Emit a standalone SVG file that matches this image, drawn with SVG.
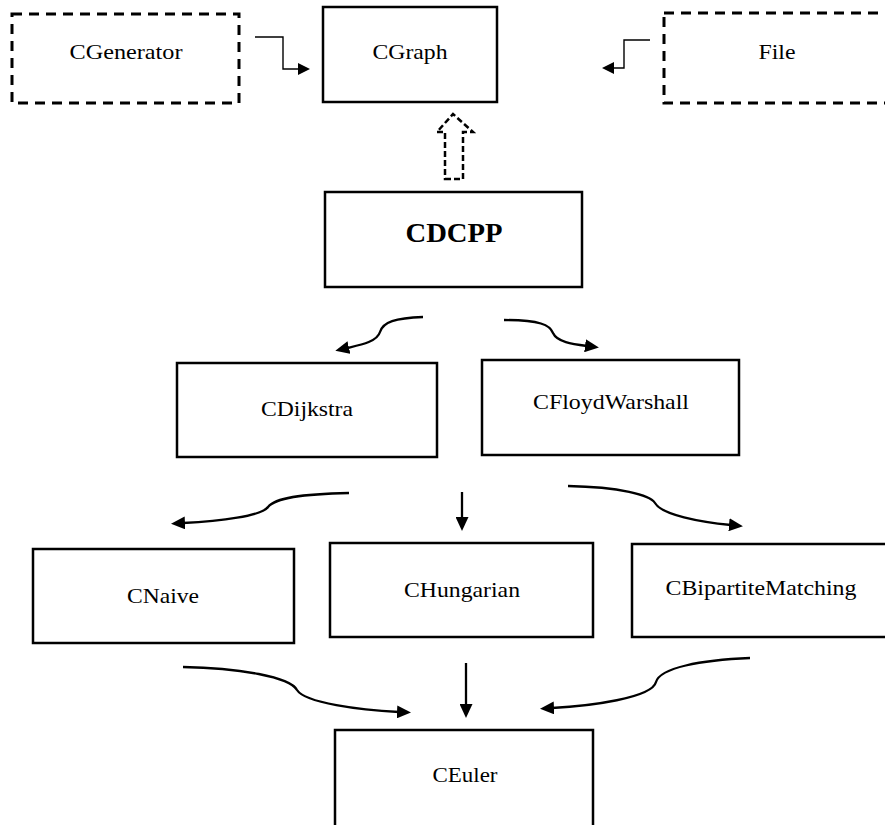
<svg xmlns="http://www.w3.org/2000/svg" width="885" height="825" viewBox="0 0 885 825">
<style>
.box{fill:#fff;stroke:#000;stroke-width:2.5}
.dash{fill:#fff;stroke:#000;stroke-width:3;stroke-dasharray:10 7}
.t{font-family:"Liberation Serif","Times New Roman",serif;font-size:22px;fill:#000;text-anchor:middle}
.b{font-family:"Liberation Serif","Times New Roman",serif;font-size:28px;font-weight:bold;fill:#000;text-anchor:middle}
.c{fill:none;stroke:#000;stroke-width:2.3;marker-end:url(#ah)}
.e{fill:none;stroke:#000;stroke-width:1.4;marker-end:url(#ah2)}
</style>
<defs>
<marker id="ah" markerUnits="userSpaceOnUse" markerWidth="15" markerHeight="13" refX="2" refY="6.5" orient="auto">
<path d="M0,0 L14,6.5 L0,13 Z" fill="#000"/>
</marker>
<marker id="ah2" markerUnits="userSpaceOnUse" markerWidth="13" markerHeight="12" refX="1" refY="6" orient="auto">
<path d="M0,0 L12,6 L0,12 Z" fill="#000"/>
</marker>
</defs>
<rect width="885" height="825" fill="#fff"/>
<g id="connectors">
<path class="e" d="M255,37 H283 V69 H299"/>
<path class="e" d="M650,40 H624 V68 H613"/>
<polygon points="445,179 463,179 463,132 473,132 453,114 437,132 445,132" fill="#fff" stroke="#000" stroke-width="2.5" stroke-dasharray="6 3"/>
<path class="c" d="M423,317 C395,318 383,322 380,332 C377,342 360,345 347,348"/>
<path class="c" d="M504,320 C540,320 550,325 553,333 C557,342 572,344 587,346"/>
<path class="c" d="M349,493 C300,494 275,498 268,507 C262,516 220,521 183,523"/>
<path class="c" d="M462,492 L462,519"/>
<path class="c" d="M568,486 C620,487 650,495 655,503 C662,515 700,522 731,525"/>
<path class="c" d="M183,667 C240,668 290,677 297,690 C305,703 360,710 399,712"/>
<path class="c" d="M466,663 L466,706"/>
<path class="c" d="M750,658 C700,660 660,668 656,682 C652,698 590,706 552,708"/>
</g>
<g id="CGenerator"><rect class="dash" x="12" y="14" width="227" height="89"/><text class="t" x="126" y="59" textLength="113" lengthAdjust="spacingAndGlyphs">CGenerator</text></g>
<g id="CGraph"><rect class="box" x="323" y="7" width="174" height="95"/><text class="t" x="410" y="59" textLength="75" lengthAdjust="spacingAndGlyphs">CGraph</text></g>
<g id="File"><rect class="dash" x="664" y="13" width="240" height="90"/><text class="t" x="777" y="59" textLength="37" lengthAdjust="spacingAndGlyphs">File</text></g>
<g id="CDCPP"><rect class="box" x="325" y="192" width="257" height="95"/><text class="b" x="454" y="242" textLength="97" lengthAdjust="spacingAndGlyphs">CDCPP</text></g>
<g id="CDijkstra"><rect class="box" x="177" y="363" width="260" height="94"/><text class="t" x="307" y="416" textLength="92" lengthAdjust="spacingAndGlyphs">CDijkstra</text></g>
<g id="CFloydWarshall"><rect class="box" x="482" y="360" width="257" height="95"/><text class="t" x="611" y="409" textLength="156" lengthAdjust="spacingAndGlyphs">CFloydWarshall</text></g>
<g id="CNaive"><rect class="box" x="33" y="549" width="261" height="94"/><text class="t" x="163" y="603" textLength="72" lengthAdjust="spacingAndGlyphs">CNaive</text></g>
<g id="CHungarian"><rect class="box" x="330" y="543" width="263" height="94"/><text class="t" x="462" y="597" textLength="116" lengthAdjust="spacingAndGlyphs">CHungarian</text></g>
<g id="CBipartiteMatching"><rect class="box" x="632" y="544" width="270" height="93"/><text class="t" x="761" y="595" textLength="191" lengthAdjust="spacingAndGlyphs">CBipartiteMatching</text></g>
<g id="CEuler"><rect class="box" x="335" y="730" width="258" height="110"/><text class="t" x="465" y="782" textLength="65" lengthAdjust="spacingAndGlyphs">CEuler</text></g>
</svg>
